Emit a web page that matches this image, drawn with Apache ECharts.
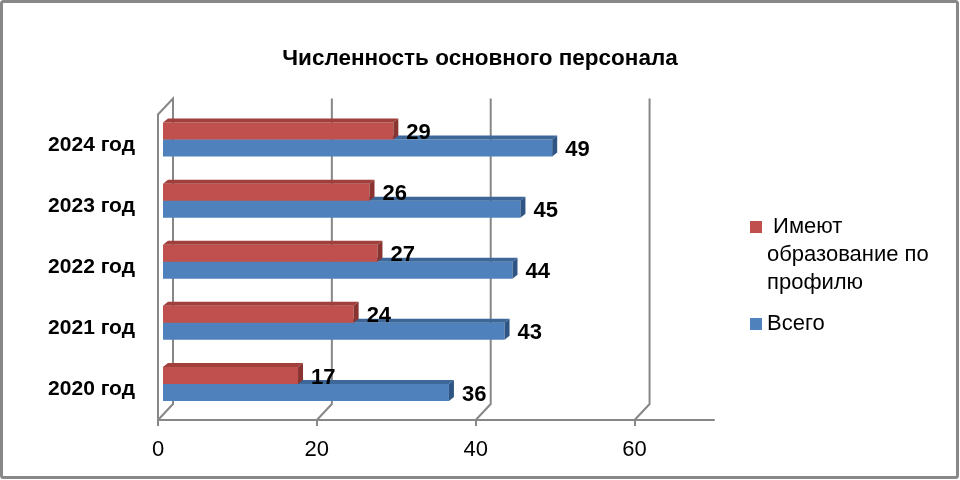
<!DOCTYPE html>
<html>
<head>
<meta charset="utf-8">
<script src="https://cdn.jsdelivr.net/npm/echarts@6/dist/echarts.min.js"></script>
<style>
  html, body { margin: 0; padding: 0; background: #fff; }
  #main { width: 960px; height: 480px; }
</style>
</head>
<body>
<div id="main"></div>
<script>
// данные
var categories = ['2020 год', '2021 год', '2022 год', '2023 год', '2024 год'];
var profileValues = [17, 24, 27, 26, 29];
var totalValues = [36, 43, 44, 45, 49];
var xTicks = [0, 20, 40, 60];
var seriesNames = ['Имеют образование по профилю', 'Всего'];

var FONT = "'Liberation Sans', Arial, sans-serif";
var GRID_COLOR = '#878787';

// 3d offsets
var WALL_DX = 15, WALL_DY = 16;
var BAR_DX = 5, BAR_DY = -5.5;
var BAR_H = 17;
var DEPTH_X = 5, DEPTH_Y = 4;

function barRender(upper, front, top, side) {
    return function (params, api) {
        var v = api.value(0);
        var idx = api.value(1);
        var start = api.coord([0, idx]);
        var end = api.coord([v, idx]);
        var x0 = start[0] + BAR_DX;
        var x1 = end[0] + BAR_DX;
        var y0 = start[1] + BAR_DY - (upper ? BAR_H : 0);
        var h = BAR_H;
        return {
            type: 'group',
            children: [
                { type: 'rect', shape: { x: x0, y: y0, width: x1 - x0, height: h }, style: { fill: front } },
                { type: 'polygon', shape: { points: [[x0, y0], [x0 + DEPTH_X, y0 - DEPTH_Y], [x1 + DEPTH_X, y0 - DEPTH_Y], [x1, y0]] }, style: { fill: top } },
                { type: 'polygon', shape: { points: [[x1, y0], [x1 + DEPTH_X, y0 - DEPTH_Y], [x1 + DEPTH_X, y0 + h - DEPTH_Y], [x1, y0 + h]] }, style: { fill: side } },
                { type: 'text', x: x1 + DEPTH_X + 8, y: y0 + h / 2 + 2,
                  style: { text: String(v), fontSize: 22, fontWeight: 'bold', fontFamily: FONT, fill: '#000', align: 'left', verticalAlign: 'middle' } }
            ]
        };
    };
}

// сетка на задней стенке
function wallRender(params, api) {
    var cs = params.coordSys;
    var v = api.value(0);
    var x = api.coord([v, 0])[0];
    var top = cs.y, bottom = cs.y + cs.height;
    var pts = [[x + WALL_DX, top - WALL_DY], [x + WALL_DX, bottom - WALL_DY], [x, bottom]];
    if (v === 0) pts.unshift([x, top]);
    return {
        type: 'polyline',
        shape: { points: pts },
        style: { stroke: GRID_COLOR, lineWidth: 2, fill: null }
    };
}

var chart = echarts.init(document.getElementById('main'));

var option = {
    animation: false,
    backgroundColor: '#fff',
    title: {
        text: 'Численность основного персонала',
        left: 'center',
        top: 42,
        textStyle: { fontFamily: FONT, fontSize: 22.5, fontWeight: 'bold', color: '#000' }
    },
    legend: {
        orient: 'vertical',
        left: 750,
        top: 157,
        padding: 0,
        itemWidth: 12,
        itemHeight: 12,
        itemGap: 13,
        icon: 'rect',
        data: [
            { name: seriesNames[0], itemStyle: { color: '#C0504D' } },
            { name: seriesNames[1], itemStyle: { color: '#4F81BD' } }
        ],
        formatter: function (name) {
            // две пустые строки сверху, чтобы значок стоял у первой строки
            if (name === seriesNames[0]) return '\n\n\u00a0Имеют\nобразование по\nпрофилю';
            return name;
        },
        textStyle: { fontFamily: FONT, fontSize: 22, lineHeight: 28, color: '#000' }
    },
    graphic: [{
        type: 'rect',
        silent: true,
        z: 100,
        shape: { x: 1.5, y: 1.5, width: 956, height: 476, r: 2 },
        style: { fill: null, stroke: '#888', lineWidth: 3 }
    }],
    grid: { left: 158, top: 114.5, width: 556, height: 305.5, containLabel: false },
    xAxis: {
        type: 'value',
        min: 0,
        max: 70,
        interval: 20,
        axisLine: { show: true, lineStyle: { color: GRID_COLOR, width: 2 } },
        axisTick: { show: true, length: 6, customValues: xTicks, lineStyle: { color: GRID_COLOR, width: 2 } },
        axisLabel: { customValues: xTicks, margin: 19, fontFamily: FONT, fontSize: 22, color: '#000' },
        splitLine: { show: false }
    },
    yAxis: {
        type: 'category',
        data: categories,
        axisLine: { show: true, lineStyle: { color: GRID_COLOR, width: 2 } },
        axisTick: { show: false },
        axisLabel: { margin: 23, fontFamily: FONT, fontSize: 21, fontWeight: 'bold', color: '#000' },
        splitLine: { show: false }
    },
    series: [
        {
            type: 'custom',
            name: 'wall',
            silent: true,
            data: xTicks.map(function (v) { return [v, 0]; }),
            encode: { x: 0, y: 1 },
            renderItem: wallRender,
            z: 1
        },
        {
            type: 'custom',
            name: seriesNames[1],
            color: '#4F81BD',
            data: totalValues.map(function (v, i) { return [v, i]; }),
            encode: { x: 0, y: 1 },
            renderItem: barRender(false, '#4F81BD', '#3D6799', '#2E5583'),
            z: 2
        },
        {
            type: 'custom',
            name: seriesNames[0],
            color: '#C0504D',
            data: profileValues.map(function (v, i) { return [v, i]; }),
            encode: { x: 0, y: 1 },
            renderItem: barRender(true, '#C0504D', '#A03F3C', '#8A3431'),
            z: 3
        }
    ]
};

chart.setOption(option);
</script>
</body>
</html>
